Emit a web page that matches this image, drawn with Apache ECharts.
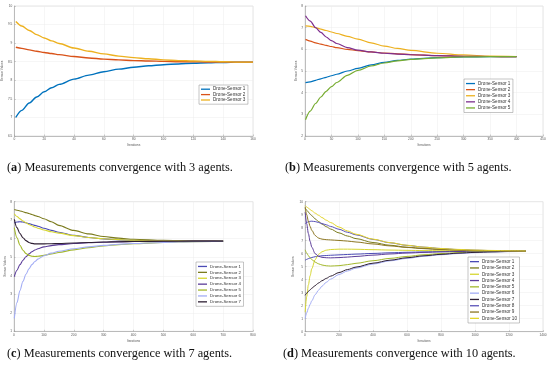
<!DOCTYPE html>
<html><head><meta charset="utf-8">
<script src="https://cdn.jsdelivr.net/npm/echarts@6/dist/echarts.min.js"></script>
<style>html,body{margin:0;padding:0;background:#fff}#c{width:550px;height:374px}</style>
</head><body><div id="c"></div>
<script>
// ---- Panel (a): 3 agents ----
const xA = [1, 5, 10, 15, 20, 25, 30, 40, 50, 60, 70, 80, 90, 100, 110, 120, 130, 140, 150, 160];
const a1 = [7.00, 7.19, 7.39, 7.55, 7.69, 7.80, 7.89, 8.03, 8.14, 8.23, 8.30, 8.35, 8.39, 8.42, 8.44, 8.46, 8.47, 8.48, 8.49, 8.49];
const a2 = [8.89, 8.86, 8.82, 8.78, 8.75, 8.72, 8.69, 8.64, 8.60, 8.57, 8.55, 8.53, 8.52, 8.51, 8.50, 8.50, 8.49, 8.49, 8.49, 8.49];
const a3 = [9.58, 9.46, 9.34, 9.23, 9.14, 9.06, 8.99, 8.87, 8.78, 8.71, 8.65, 8.61, 8.58, 8.55, 8.53, 8.52, 8.51, 8.50, 8.49, 8.49];

// ---- Panel (b): 5 agents ----
const xB = [1, 10, 20, 30, 40, 50, 60, 80, 100, 125, 150, 175, 200, 250, 300, 350, 400];
const b1 = [4.46, 4.50, 4.57, 4.64, 4.71, 4.78, 4.85, 5.00, 5.12, 5.28, 5.40, 5.49, 5.55, 5.62, 5.65, 5.66, 5.66];
const b2 = [6.46, 6.38, 6.30, 6.24, 6.18, 6.13, 6.08, 6.00, 5.94, 5.88, 5.83, 5.79, 5.76, 5.71, 5.68, 5.67, 5.66];
const b3 = [7.08, 7.06, 7.00, 6.93, 6.87, 6.80, 6.73, 6.60, 6.47, 6.30, 6.15, 6.04, 5.95, 5.82, 5.74, 5.69, 5.67];
const b4 = [7.55, 7.30, 7.00, 6.78, 6.57, 6.40, 6.27, 6.08, 5.96, 5.88, 5.82, 5.78, 5.75, 5.71, 5.68, 5.67, 5.66];
const b5 = [2.75, 3.15, 3.50, 3.80, 4.06, 4.28, 4.47, 4.80, 5.03, 5.23, 5.37, 5.47, 5.54, 5.61, 5.65, 5.66, 5.66];

// ---- Panel (c): 7 agents ----
const xC = [1, 10, 20, 30, 40, 50, 60, 70, 80, 100, 125, 150, 200, 250, 300, 350, 400, 500, 600, 700];
const c1 = [6.85, 6.90, 6.92, 6.90, 6.86, 6.82, 6.77, 6.72, 6.67, 6.57, 6.45, 6.35, 6.18, 6.07, 5.99, 5.94, 5.91, 5.88, 5.87, 5.87];
const c2 = [7.58, 7.54, 7.50, 7.46, 7.41, 7.36, 7.31, 7.25, 7.20, 7.08, 6.92, 6.72, 6.45, 6.26, 6.12, 6.03, 5.97, 5.91, 5.88, 5.87];
const c3 = [7.35, 7.20, 7.07, 6.96, 6.86, 6.77, 6.70, 6.63, 6.57, 6.47, 6.38, 6.30, 6.17, 6.07, 6.00, 5.95, 5.92, 5.89, 5.87, 5.87];
const c4 = [3.95, 4.30, 4.60, 4.84, 5.03, 5.18, 5.30, 5.39, 5.46, 5.56, 5.63, 5.68, 5.74, 5.78, 5.81, 5.83, 5.85, 5.86, 5.87, 5.87];
const c5 = [6.60, 6.05, 5.65, 5.38, 5.20, 5.10, 5.05, 5.04, 5.05, 5.10, 5.18, 5.26, 5.40, 5.52, 5.61, 5.68, 5.73, 5.80, 5.84, 5.86];
const c6 = [1.70, 2.55, 3.20, 3.70, 4.08, 4.37, 4.60, 4.77, 4.90, 5.08, 5.22, 5.32, 5.46, 5.56, 5.64, 5.70, 5.74, 5.80, 5.84, 5.86];
const c7 = [7.05, 6.60, 6.28, 6.05, 5.90, 5.80, 5.75, 5.72, 5.72, 5.72, 5.73, 5.74, 5.77, 5.80, 5.82, 5.84, 5.85, 5.86, 5.87, 5.87];

// ---- Panel (d): 10 agents ----
const xD = [1, 10, 20, 30, 40, 60, 80, 100, 125, 150, 200, 250, 300, 400, 500, 600, 700, 800, 900, 1000, 1100, 1200, 1300];
const d1 = [5.50, 5.56, 5.62, 5.67, 5.71, 5.77, 5.81, 5.84, 5.86, 5.88, 5.91, 5.94, 5.97, 6.02, 6.07, 6.11, 6.14, 6.16, 6.18, 6.19, 6.20, 6.20, 6.20];
const d2 = [9.50, 9.35, 9.20, 9.05, 8.92, 8.68, 8.47, 8.28, 8.08, 7.90, 7.60, 7.36, 7.16, 6.86, 6.65, 6.50, 6.40, 6.33, 6.28, 6.25, 6.23, 6.21, 6.20];
const d3 = [1.50, 2.70, 3.60, 4.30, 4.85, 5.55, 5.95, 6.15, 6.27, 6.32, 6.35, 6.35, 6.34, 6.31, 6.28, 6.26, 6.24, 6.23, 6.22, 6.21, 6.21, 6.20, 6.20];
const d4 = [9.20, 8.30, 7.55, 6.95, 6.50, 6.00, 5.80, 5.72, 5.69, 5.68, 5.70, 5.74, 5.79, 5.89, 5.98, 6.05, 6.10, 6.14, 6.17, 6.19, 6.20, 6.20, 6.20];
const d5 = [6.30, 6.05, 5.85, 5.68, 5.55, 5.35, 5.22, 5.13, 5.07, 5.05, 5.08, 5.16, 5.26, 5.46, 5.64, 5.79, 5.92, 6.01, 6.08, 6.13, 6.16, 6.18, 6.19];
const d6 = [1.00, 1.45, 1.80, 2.10, 2.38, 2.85, 3.20, 3.50, 3.80, 4.04, 4.40, 4.67, 4.89, 5.20, 5.45, 5.64, 5.80, 5.92, 6.01, 6.08, 6.13, 6.16, 6.18];
const d7 = [2.80, 2.95, 3.10, 3.22, 3.34, 3.55, 3.75, 3.92, 4.10, 4.27, 4.55, 4.78, 4.97, 5.27, 5.50, 5.69, 5.84, 5.95, 6.04, 6.10, 6.14, 6.17, 6.19];
const d8 = [8.30, 8.40, 8.46, 8.49, 8.50, 8.47, 8.40, 8.32, 8.22, 8.10, 7.88, 7.65, 7.45, 7.10, 6.84, 6.64, 6.50, 6.40, 6.32, 6.27, 6.24, 6.22, 6.21];
const d9 = [9.60, 9.00, 8.50, 8.10, 7.80, 7.40, 7.20, 7.12, 7.08, 7.06, 7.02, 6.97, 6.90, 6.75, 6.60, 6.48, 6.39, 6.32, 6.27, 6.24, 6.22, 6.21, 6.20];
const d10 = [9.70, 9.60, 9.50, 9.40, 9.30, 9.12, 8.95, 8.78, 8.58, 8.40, 8.05, 7.75, 7.50, 7.12, 6.85, 6.65, 6.50, 6.40, 6.33, 6.28, 6.25, 6.22, 6.21];

const sensorLabels = ['Drone-Sensor 1','Drone-Sensor 2','Drone-Sensor 3','Drone-Sensor 4','Drone-Sensor 5','Drone-Sensor 6','Drone-Sensor 7','Drone-Sensor 8','Drone-Sensor 9','Drone-Sensor 10'];
const captions = ['Measurements convergence with 3 agents.','Measurements convergence with 5 agents.','Measurements convergence with 7 agents.','Measurements convergence with 10 agents.'];

const colAB = ['#0072BD','#D95319','#EDB120','#7E2F8E','#77AC30'];
const colCD = ['#4B4BB5','#7B7B1E','#D6D630','#5B3C99','#A3B82B','#A3ADF5','#2E1F33','#5A52B8','#8C7622','#E3D52A'];

const panels = [
  {key:'a', xs:xA, ys:[a1,a2,a3], colors:colAB, lw:1.4,
   grid:{left:14, top:6, width:239, height:130}, x:{min:0,max:160,interval:20}, y:{min:6.5,max:10,interval:0.5},
   yNameGap:9, legend:{left:199, top:85}, lfs:4.6, llh:5.4},
  {key:'b', xs:xB, ys:[b1,b2,b3,b4,b5], colors:colAB, lw:1.2,
   grid:{left:305, top:6, width:238, height:130}, x:{min:0,max:450,interval:50}, y:{min:2,max:8,interval:1},
   yNameGap:7, legend:{left:464, top:79}, lfs:4.6, llh:6.1},
  {key:'c', xs:xC, ys:[c1,c2,c3,c4,c5,c6,c7], colors:colCD, lw:1.1,
   grid:{left:14, top:201.7, width:239, height:129.6}, x:{min:0,max:800,interval:100}, y:{min:1,max:8,interval:1},
   yNameGap:7, legend:{left:196, top:262}, lfs:4.4, llh:5.9},
  {key:'d', xs:xD, ys:[d1,d2,d3,d4,d5,d6,d7,d8,d9,d10], colors:colCD, lw:1.0,
   grid:{left:305, top:201.7, width:238, height:130}, x:{min:0,max:1400,interval:200}, y:{min:0,max:10,interval:1},
   yNameGap:10, legend:{left:468, top:257}, lfs:4.6, llh:6.3}
];

const grids=[], xAxes=[], yAxes=[], series=[], legends=[];
panels.forEach((p, i) => {
  grids.push(Object.assign({show:true, borderColor:'#c8c8c8', borderWidth:0.5, backgroundColor:'#fff'}, p.grid));
  const axCommon = {
    gridIndex:i, type:'value',
    axisLine:{show:true, lineStyle:{color:'#9a9a9a', width:0.6}},
    axisTick:{show:true, inside:true, length:1.5, lineStyle:{color:'#9a9a9a', width:0.5}},
    splitLine:{show:true, lineStyle:{color:'#ececec', width:0.5}},
    axisLabel:{fontSize:3.2, color:'#555', margin:2, fontFamily:'Liberation Sans', formatter: v => String(v)},
    nameLocation:'middle', nameTextStyle:{fontSize:3.2, color:'#555', fontFamily:'Liberation Sans'}
  };
  xAxes.push(Object.assign({}, axCommon, p.x, {name:'Iterations', nameGap:8}));
  yAxes.push(Object.assign({}, axCommon, p.y, {name:'Sensor Values', nameGap:p.yNameGap}));
  const names=[];
  p.ys.forEach((arr, k) => {
    const nm = p.key + '|' + sensorLabels[k];
    names.push(nm);
    series.push({
      type:'line', name:nm, xAxisIndex:i, yAxisIndex:i,
      data: p.xs.map((x, j) => [x, arr[j]]),
      smooth:0.3, smoothMonotone:'x', symbol:'none', animation:false,
      lineStyle:{width:p.lw, color:p.colors[k]}, itemStyle:{color:p.colors[k]}
    });
  });
  legends.push({
    data:names, orient:'vertical', left:p.legend.left, top:p.legend.top,
    icon:'rect', itemWidth:9, itemHeight:1.3, itemGap:0, selectedMode:false,
    backgroundColor:'#fff', borderColor:'#8a8a8a', borderWidth:0.5, borderRadius:0,
    padding:[1.5,2.5,1.5,2],
    formatter: n => n.split('|')[1],
    textStyle:{fontSize:p.lfs, lineHeight:p.llh, color:'#333', fontFamily:'Liberation Sans', padding:[0,0,0,-2]}
  });
});

const capPos = [[7,169],[285,169],[7,355],[283,355]];
const letters = ['a','b','c','d'];
const graphics = capPos.map((pp, i) => ({
  type:'text', left:pp[0], top:pp[1]-7, silent:true,
  style:{
    text:'({b|' + letters[i] + '}) ' + captions[i],
    fontSize:12.3, fontFamily:'Liberation Serif', fill:'#111',
    rich:{b:{fontWeight:'bold', fontSize:12.3, fontFamily:'Liberation Serif', fill:'#111'}}
  }
}));

const chart = echarts.init(document.getElementById('c'), null, {renderer:'canvas'});
chart.setOption({
  animation:false,
  grid:grids, xAxis:xAxes, yAxis:yAxes, series:series, legend:legends, graphic:graphics
});
</script></body></html>
